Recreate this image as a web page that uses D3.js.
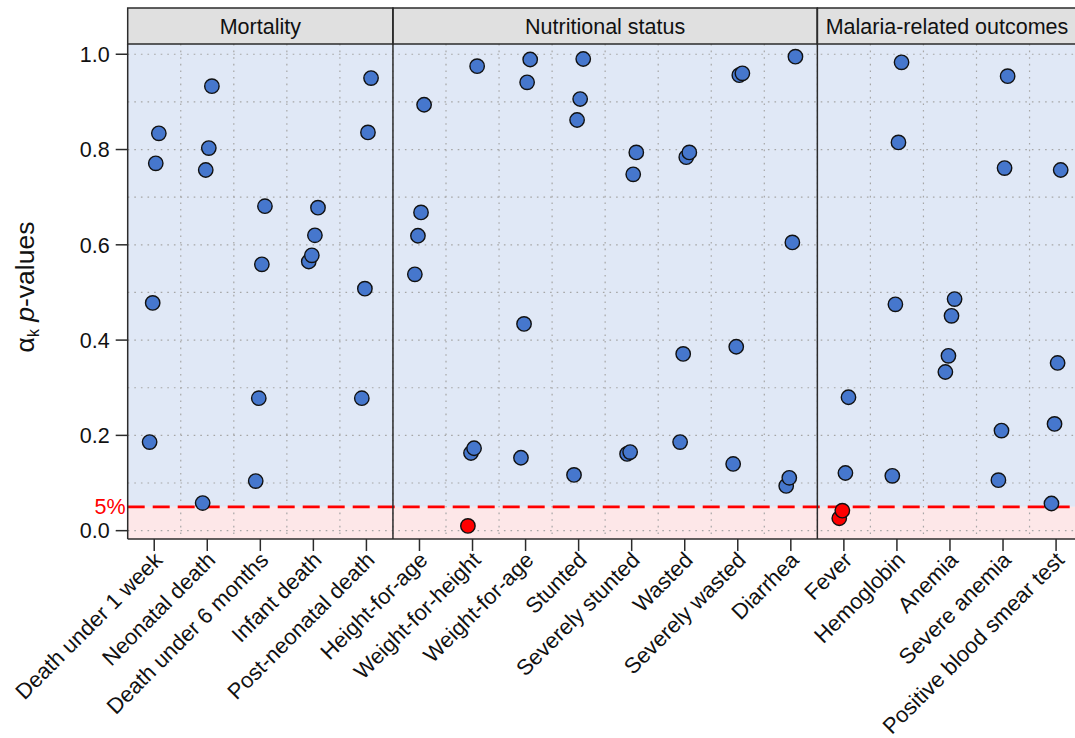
<!DOCTYPE html>
<html>
<head>
<meta charset="utf-8">
<script src="https://cdn.jsdelivr.net/npm/d3@7/dist/d3.min.js"></script>
<style>
  html, body { margin: 0; padding: 0; background: #fff; }
  svg { display: block; font-family: "Liberation Sans", Arial, sans-serif; }
</style>
</head>
<body>
<svg id="chart" width="1075" height="738"></svg>
<script>
// ---------------- data ----------------
const categories = [
  "Death under 1 week", "Neonatal death", "Death under 6 months", "Infant death", "Post-neonatal death",
  "Height-for-age", "Weight-for-height", "Weight-for-age", "Stunted", "Severely stunted",
  "Wasted", "Severely wasted", "Diarrhea",
  "Fever", "Hemoglobin", "Anemia", "Severe anemia", "Positive blood smear test"
];
const groupNames = ["Mortality", "Nutritional status", "Malaria-related outcomes"];
const groupSizes = [5, 8, 5];
const pvalues = [
  [0.834, 0.771, 0.478, 0.186],
  [0.933, 0.803, 0.757, 0.058],
  [0.681, 0.559, 0.278, 0.104],
  [0.678, 0.620, 0.578, 0.565],
  [0.950, 0.836, 0.508, 0.278],
  [0.894, 0.668, 0.619, 0.538],
  [0.975, 0.173, 0.163, 0.010],
  [0.989, 0.941, 0.434, 0.153],
  [0.990, 0.906, 0.862, 0.117],
  [0.794, 0.748, 0.165, 0.161],
  [0.794, 0.784, 0.371, 0.186],
  [0.960, 0.956, 0.386, 0.140],
  [0.995, 0.605, 0.111, 0.094],
  [0.280, 0.121, 0.042, 0.026],
  [0.983, 0.815, 0.475, 0.115],
  [0.486, 0.451, 0.367, 0.333],
  [0.954, 0.761, 0.210, 0.106],
  [0.757, 0.352, 0.224, 0.057]
];
const yTicks = [0, 0.2, 0.4, 0.6, 0.8, 1.0];
const yGrid = [0, 0.1, 0.2, 0.3, 0.4, 0.5, 0.6, 0.7, 0.8, 0.9, 1.0];
const threshold = 0.05;
const thresholdLabel = "5%";

// ---------------- layout ----------------
const svg = d3.select("#chart");
const pTop = 44, pBottom = 539, stripTop = 8;
const x = d3.scaleLinear().domain([-0.5, categories.length - 0.5]).range([127.7, 1082.6]);
const y = d3.scaleLinear().domain([-0.0175, 1.0215]).range([pBottom, pTop]);
const pLeft = x(-0.5), pRight = x(categories.length - 0.5);
const fontSize = 21.5;
const frame = "#2b2b2b";

// backgrounds
svg.append("rect").attr("x", pLeft).attr("y", pTop).attr("width", pRight - pLeft)
  .attr("height", y(threshold) - pTop).attr("fill", "#e0e8f6");
svg.append("rect").attr("x", pLeft).attr("y", y(threshold)).attr("width", pRight - pLeft)
  .attr("height", pBottom - y(threshold)).attr("fill", "#fde7e8");

// grid
const gridG = svg.append("g").attr("stroke", "#a6a6a6").attr("stroke-width", 1.2)
  .attr("stroke-dasharray", "1.6,5");
gridG.selectAll("line.h").data(yGrid).join("line").attr("class", "h")
  .attr("x1", pLeft).attr("x2", pRight).attr("y1", d => y(d)).attr("y2", d => y(d));
gridG.selectAll("line.v").data(d3.range(categories.length - 1)).join("line").attr("class", "v")
  .attr("x1", d => x(d + 0.5)).attr("x2", d => x(d + 0.5)).attr("y1", pTop).attr("y2", pBottom);

// threshold line
svg.append("line").attr("x1", pLeft).attr("x2", pRight)
  .attr("y1", y(threshold)).attr("y2", y(threshold))
  .attr("stroke", "#ff0000").attr("stroke-width", 2.6).attr("stroke-dasharray", "17,8");
svg.append("text").attr("x", pLeft - 2).attr("y", y(threshold)).attr("dy", "0.35em")
  .attr("text-anchor", "end").attr("fill", "#ff0000").attr("font-size", fontSize)
  .text(thresholdLabel);

// group boundaries
const groupStarts = groupSizes.map((s, i) => d3.sum(groupSizes.slice(0, i)));
const groups = groupNames.map((name, i) => ({
  name, start: groupStarts[i], end: groupStarts[i] + groupSizes[i]
}));

// strips
const strip = svg.append("g");
strip.selectAll("rect").data(groups).join("rect")
  .attr("x", d => x(d.start - 0.5)).attr("y", stripTop)
  .attr("width", d => x(d.end - 0.5) - x(d.start - 0.5)).attr("height", pTop - stripTop)
  .attr("fill", "#e0e0e0").attr("stroke", frame).attr("stroke-width", 1.5);
strip.selectAll("text").data(groups).join("text")
  .attr("x", d => Math.min((x(d.start - 0.5) + x(d.end - 0.5)) / 2, 947))
  .attr("y", (stripTop + pTop) / 2).attr("dy", "0.36em")
  .attr("text-anchor", "middle").attr("font-size", fontSize).attr("fill", "#111")
  .text(d => d.name);

// panel frame and dividers
svg.append("line").attr("x1", pLeft).attr("x2", pLeft).attr("y1", pTop).attr("y2", pBottom)
  .attr("stroke", frame).attr("stroke-width", 1.5);
svg.append("line").attr("x1", pLeft).attr("x2", pRight).attr("y1", pBottom).attr("y2", pBottom)
  .attr("stroke", frame).attr("stroke-width", 1.5);
svg.selectAll("line.div").data(groups.slice(1)).join("line").attr("class", "div")
  .attr("x1", d => x(d.start - 0.5)).attr("x2", d => x(d.start - 0.5))
  .attr("y1", stripTop).attr("y2", pBottom)
  .attr("stroke", frame).attr("stroke-width", 1.5);

// y axis
const yAxis = svg.append("g");
yAxis.selectAll("line").data(yTicks).join("line")
  .attr("x1", pLeft - 12).attr("x2", pLeft).attr("y1", d => y(d)).attr("y2", d => y(d))
  .attr("stroke", frame).attr("stroke-width", 1.5);
yAxis.selectAll("text").data(yTicks).join("text")
  .attr("x", pLeft - 18).attr("y", d => y(d)).attr("dy", "0.36em")
  .attr("text-anchor", "end").attr("font-size", fontSize).attr("fill", "#111")
  .text(d => d3.format(".1f")(d));

// y label
const yl = svg.append("text").attr("transform", "translate(34,287) rotate(-90)")
  .attr("text-anchor", "middle").attr("font-size", 26.5).attr("fill", "#111");
yl.append("tspan").text("α");
yl.append("tspan").attr("font-size", 16).attr("dy", 5).text("k");
yl.append("tspan").attr("dy", -5).text(" ");
yl.append("tspan").attr("font-style", "italic").text("p");
yl.append("tspan").text("-values");

// x axis
const xAxis = svg.append("g");
xAxis.selectAll("line").data(categories).join("line")
  .attr("x1", (d, i) => x(i)).attr("x2", (d, i) => x(i))
  .attr("y1", pBottom).attr("y2", pBottom + 12)
  .attr("stroke", frame).attr("stroke-width", 1.5);
xAxis.selectAll("text").data(categories).join("text")
  .attr("transform", (d, i) => `translate(${x(i) + 4},${pBottom + 17}) rotate(-45)`)
  .attr("text-anchor", "end").attr("dy", "0.35em")
  .attr("font-size", 22).attr("fill", "#111")
  .text(d => d);

// points
const pts = [];
pvalues.forEach((vals, i) => {
  const sorted = vals.slice().sort((a, b) => a - b);
  sorted.forEach((v, r) => pts.push({ cat: i, v, rank: r, n: sorted.length }));
});
svg.append("g").selectAll("circle").data(pts).join("circle")
  .attr("cx", d => x(d.cat + (d.rank - (d.n - 1) / 2) * 0.058))
  .attr("cy", d => y(d.v))
  .attr("r", 7.2)
  .attr("fill", d => d.v < threshold ? "#ff0000" : "#4677cd")
  .attr("stroke", "#111").attr("stroke-width", 1.4);
</script>
</body>
</html>
